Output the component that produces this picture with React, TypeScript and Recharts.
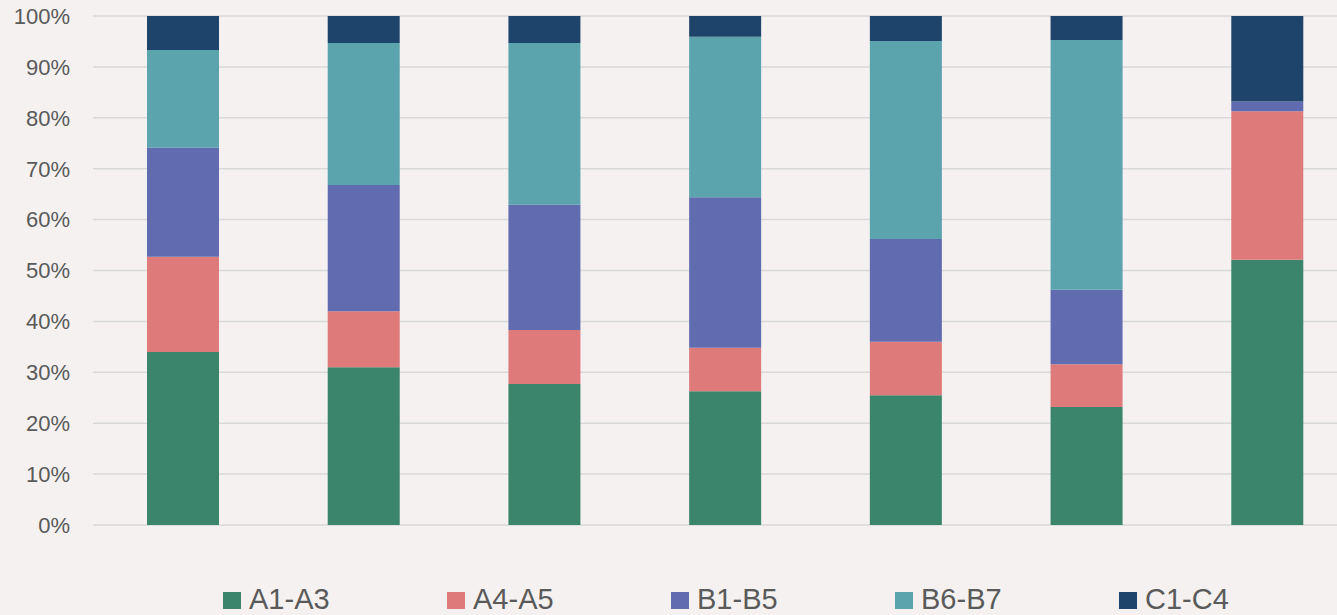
import { BarChart, Bar, XAxis, YAxis, CartesianGrid, Legend } from 'recharts'

const categories = ['1', '2', '3', '4', '5', '6', '7']
const a1a3 = [34.0, 31.0, 27.7, 26.3, 25.5, 23.2, 52.1]
const a4a5 = [18.7, 11.0, 10.6, 8.5, 10.5, 8.4, 29.2]
const b1b5 = [21.4, 24.8, 24.6, 29.6, 20.2, 14.6, 1.9]
const b6b7 = [19.2, 27.9, 31.8, 31.5, 38.9, 49.1, 0]
const c1c4 = [6.7, 5.3, 5.3, 4.1, 4.9, 4.7, 16.8]
const yTicks = [0, 0.1, 0.2, 0.3, 0.4, 0.5, 0.6, 0.7, 0.8, 0.9, 1]

const series = [
  { key: 'A1-A3', color: '#3b856c' },
  { key: 'A4-A5', color: '#df7a7a' },
  { key: 'B1-B5', color: '#606bb0' },
  { key: 'B6-B7', color: '#5ba3ad' },
  { key: 'C1-C4', color: '#1f446b' },
]

const data = categories.map((name, i) => ({
  name,
  'A1-A3': a1a3[i],
  'A4-A5': a4a5[i],
  'B1-B5': b1b5[i],
  'B6-B7': b6b7[i],
  'C1-C4': c1c4[i],
}))

const font = '"Liberation Sans", Arial, sans-serif'
const textColor = '#5a5a5a'

function LegendContent() {
  return (
    <div style={{ display: 'flex', fontFamily: font, fontSize: 29, lineHeight: '32px', color: textColor }}>
      {series.map((s) => (
        <div key={s.key} style={{ width: 224, display: 'flex', alignItems: 'center' }}>
          <span style={{ width: 18, height: 17, background: s.color, marginRight: 8, marginTop: 3, display: 'inline-block' }} />
          <span>{s.key}</span>
        </div>
      ))}
    </div>
  )
}

export default function App() {
  return (
    <div style={{ position: 'absolute', left: 0, top: 0, width: 1337, height: 615, overflow: 'hidden', background: '#f4f1f0' }}>
      <BarChart
        width={1358}
        height={615}
        data={data}
        stackOffset="expand"
        margin={{ top: 16, right: 0, left: 0, bottom: 90 }}
      >
        <CartesianGrid vertical={false} stroke="#d9d9d9" strokeWidth={1.5} />
        <XAxis dataKey="name" hide />
        <YAxis
          width={93}
          domain={[0, 1]}
          ticks={yTicks}
          tickFormatter={(v: number) => `${Math.round(v * 100)}%`}
          axisLine={false}
          tickLine={false}
          tickMargin={17}
          tick={{ fill: textColor, fontSize: 22, fontFamily: font }}
        />
        <Legend
          verticalAlign="middle"
          align="center"
          layout="horizontal"
          content={<LegendContent />}
          wrapperStyle={{ top: 583, left: 223, width: 1120 }}
        />
        {series.map((s) => (
          <Bar
            key={s.key}
            dataKey={s.key}
            stackId="a"
            fill={s.color}
            barSize={72}
            isAnimationActive={false}
          />
        ))}
      </BarChart>
    </div>
  )
}
